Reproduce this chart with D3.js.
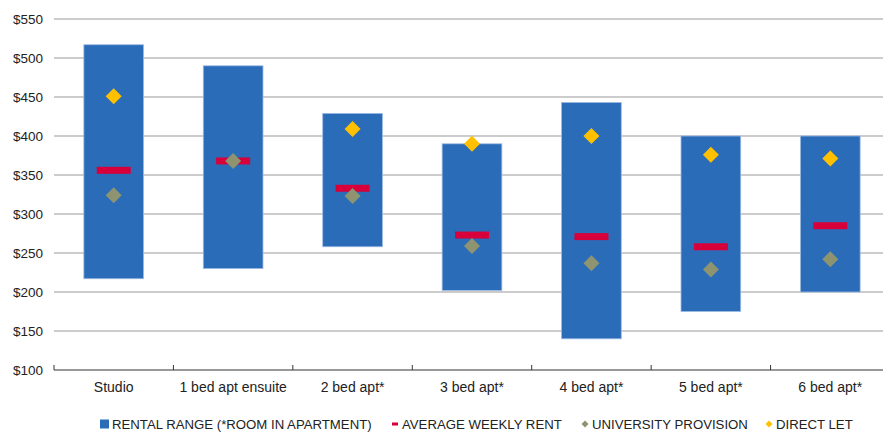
<!DOCTYPE html>
<html>
<head>
<meta charset="utf-8">
<script src="https://cdn.jsdelivr.net/npm/d3@7/dist/d3.min.js"></script>
<style>
  html, body { margin: 0; padding: 0; background: #fff; }
  svg { display: block; overflow: hidden; }
  text { font-family: "Liberation Sans", Arial, Helvetica, sans-serif; fill: #222; }
</style>
</head>
<body>
<svg id="chart" width="883" height="432"></svg>
<script>
// Weekly rent by apartment type
const categories = ["Studio", "1 bed apt ensuite", "2 bed apt*", "3 bed apt*", "4 bed apt*", "5 bed apt*", "6 bed apt*"];
const rangeLow   = [217, 230, 258, 202, 140, 175, 200];
const rangeHigh  = [517, 490, 429, 390, 443, 400, 400];
const averageRent = [356, 368, 333, 273, 271, 258, 285];
const universityProvision = [324, 368, 323, 259, 237, 229, 242];
const directLet = [451, null, 409, 390, 400, 376, 371];
const yTicks = [100, 150, 200, 250, 300, 350, 400, 450, 500, 550];
const legendLabels = ["RENTAL RANGE (*ROOM IN APARTMENT)", "AVERAGE WEEKLY RENT", "UNIVERSITY PROVISION", "DIRECT LET"];

const colors = {
  range: "#2b6cb9",
  rangeEdge: "#9dbbe3",
  average: "#d7003a",
  university: "#8e9470",
  direct: "#ffc000",
  grid: "#9a9a9a",
  axis: "#333"
};

const svg = d3.select("#chart");
const plot = { left: 54, right: 890, top: 19, bottom: 370 };

const x = d3.scaleBand().domain(categories).range([plot.left, plot.right]).paddingInner(0).paddingOuter(0);
const y = d3.scaleLinear().domain([100, 550]).range([plot.bottom, plot.top]);

// horizontal gridlines
svg.append("g")
  .selectAll("line")
  .data(yTicks.filter(t => t > 100))
  .join("line")
  .attr("x1", plot.left).attr("x2", 883)
  .attr("y1", d => y(d)).attr("y2", d => y(d))
  .attr("stroke", colors.grid)
  .attr("stroke-width", 1.2);

// y-axis labels (no axis line)
const yAxis = d3.axisLeft(y).tickValues(yTicks).tickSize(0).tickPadding(11).tickFormat(d => "$" + d);
svg.append("g")
  .attr("transform", `translate(${plot.left},0)`)
  .call(yAxis)
  .call(g => g.select(".domain").remove())
  .call(g => g.selectAll("text").style("font-size", "13.5px").attr("fill", "#222"));

// rental range bars
const barW = x.bandwidth() * 0.5;
svg.append("g")
  .selectAll("rect")
  .data(categories)
  .join("rect")
  .attr("x", d => x(d) + (x.bandwidth() - barW) / 2)
  .attr("y", (d, i) => y(rangeHigh[i]))
  .attr("width", barW)
  .attr("height", (d, i) => y(rangeLow[i]) - y(rangeHigh[i]))
  .attr("fill", colors.range)
  .attr("stroke", colors.rangeEdge)
  .attr("stroke-width", 0.8);

// bottom axis with category boundary ticks
const xAxisG = svg.append("g").attr("transform", `translate(0,${plot.bottom})`);
xAxisG.append("line")
  .attr("x1", plot.left).attr("x2", 883)
  .attr("y1", 0).attr("y2", 0)
  .attr("stroke", colors.axis).attr("stroke-width", 1.2);
xAxisG.selectAll("line.tick")
  .data(categories)
  .join("line")
  .attr("class", "tick")
  .attr("x1", d => x(d)).attr("x2", d => x(d))
  .attr("y1", -5).attr("y2", 0)
  .attr("stroke", colors.axis).attr("stroke-width", 1);
xAxisG.selectAll("text")
  .data(categories)
  .join("text")
  .attr("x", d => x(d) + x.bandwidth() / 2)
  .attr("y", 22)
  .attr("text-anchor", "middle")
  .style("font-size", "14px")
  .text(d => d);

const cx = d => x(d) + x.bandwidth() / 2;
const diamond = (s) => `M0,${-s}L${s},0L0,${s}L${-s},0Z`;

// average weekly rent dashes
const dashW = 34, dashH = 7;
svg.append("g")
  .selectAll("rect")
  .data(categories)
  .join("rect")
  .attr("x", d => cx(d) - dashW / 2)
  .attr("y", (d, i) => y(averageRent[i]) - dashH / 2)
  .attr("width", dashW)
  .attr("height", dashH)
  .attr("fill", colors.average);

// university provision markers
svg.append("g")
  .selectAll("path")
  .data(categories)
  .join("path")
  .attr("transform", (d, i) => `translate(${cx(d)},${y(universityProvision[i])})`)
  .attr("d", diamond(8))
  .attr("fill", colors.university);

// direct let markers
svg.append("g")
  .selectAll("path")
  .data(categories.filter((d, i) => directLet[i] != null))
  .join("path")
  .attr("transform", d => `translate(${cx(d)},${y(directLet[categories.indexOf(d)])})`)
  .attr("d", diamond(8))
  .attr("fill", colors.direct);

// legend
const legendY = 424;
const legend = svg.append("g");
const legendItems = [
  { key: "range", sx: 100, tx: 112 },
  { key: "average", sx: 392, tx: 402 },
  { key: "university", sx: 585, tx: 592 },
  { key: "direct", sx: 769, tx: 776 }
];
legendItems.forEach((it, i) => {
  const g = legend.append("g");
  if (it.key === "range") {
    g.append("rect").attr("x", it.sx).attr("y", legendY - 4.5).attr("width", 9).attr("height", 9).attr("fill", colors.range);
  } else if (it.key === "average") {
    g.append("rect").attr("x", it.sx).attr("y", legendY - 1.5).attr("width", 6).attr("height", 3).attr("fill", colors.average);
  } else {
    g.append("path").attr("transform", `translate(${it.sx},${legendY})`).attr("d", diamond(3.5)).attr("fill", colors[it.key]);
  }
  g.append("text")
    .attr("x", it.tx)
    .attr("y", legendY + 5)
    .style("font-size", "13.2px")
    .text(legendLabels[i]);
});
</script>
</body>
</html>
